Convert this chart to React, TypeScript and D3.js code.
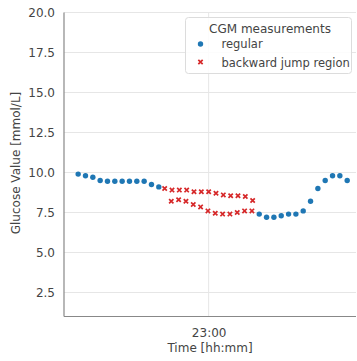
import * as React from 'react';
import * as d3 from 'd3';

// CGM readings: regular before/after the jump, and the overlapping "backward jump" readings
const regularTimes = [
  '2021-10-30 21:31:00', '2021-10-30 21:36:00', '2021-10-30 21:41:00', '2021-10-30 21:46:00',
  '2021-10-30 21:51:00', '2021-10-30 21:56:00', '2021-10-30 22:01:00', '2021-10-30 22:06:00',
  '2021-10-30 22:11:00', '2021-10-30 22:16:00', '2021-10-30 22:21:00', '2021-10-30 22:26:00',
  '2021-10-30 23:34:30', '2021-10-30 23:39:30', '2021-10-30 23:44:30', '2021-10-30 23:49:30',
  '2021-10-30 23:54:30', '2021-10-30 23:59:30', '2021-10-31 00:04:30', '2021-10-31 00:09:30',
  '2021-10-31 00:14:30', '2021-10-31 00:19:30', '2021-10-31 00:24:30', '2021-10-31 00:29:30',
  '2021-10-31 00:34:30',
];
const regularValues = [
  9.9, 9.8, 9.7, 9.5, 9.45, 9.45, 9.45, 9.45, 9.45, 9.45, 9.25, 9.1,
  7.4, 7.2, 7.2, 7.3, 7.4, 7.4, 7.6, 8.2, 9.0, 9.5, 9.8, 9.8, 9.5,
];

const jumpTimes = [
  '2021-10-30 22:30:00', '2021-10-30 22:35:00', '2021-10-30 22:40:00', '2021-10-30 22:45:00',
  '2021-10-30 22:50:00', '2021-10-30 22:55:00', '2021-10-30 23:00:00', '2021-10-30 23:05:00',
  '2021-10-30 23:10:00', '2021-10-30 23:15:00', '2021-10-30 23:20:00', '2021-10-30 23:25:00',
  '2021-10-30 23:30:00',
  '2021-10-30 22:34:30', '2021-10-30 22:39:30', '2021-10-30 22:44:30', '2021-10-30 22:49:30',
  '2021-10-30 22:54:30', '2021-10-30 22:59:30', '2021-10-30 23:04:30', '2021-10-30 23:09:30',
  '2021-10-30 23:14:30', '2021-10-30 23:19:30', '2021-10-30 23:24:30', '2021-10-30 23:29:30',
];
const jumpValues = [
  9.0, 8.9, 8.9, 8.9, 8.8, 8.8, 8.8, 8.7, 8.6, 8.55, 8.55, 8.5, 8.25,
  8.2, 8.3, 8.2, 8.0, 7.85, 7.6, 7.45, 7.4, 7.4, 7.5, 7.6, 7.6,
];

const yTicks = [2.5, 5.0, 7.5, 10.0, 12.5, 15.0, 17.5, 20.0];
const xTicks = ['2021-10-30 23:00:00'];
const xDomain = ['2021-10-30 21:21:20', '2021-10-31 00:40:30'];
const yDomain = [1.0, 20.0];

const parse = d3.timeParse('%Y-%m-%d %H:%M:%S');
const font = 'DejaVu Sans, sans-serif';

export default function App() {
  const ref = React.useRef<SVGSVGElement | null>(null);

  React.useEffect(() => {
    if (!ref.current) return;
    const svg = d3.select(ref.current);
    svg.selectAll('*').remove();

    const margin = { left: 64, right: 356, top: 12.5, bottom: 316.5 };

    const x = d3.scaleTime()
      .domain(xDomain.map(d => parse(d) as Date))
      .range([margin.left, margin.right]);
    const y = d3.scaleLinear().domain(yDomain).range([margin.bottom, margin.top]);

    // grid
    const grid = svg.append('g');
    grid.selectAll('line.h').data(yTicks).join('line')
      .attr('x1', margin.left).attr('x2', margin.right)
      .attr('y1', d => y(d)).attr('y2', d => y(d))
      .attr('stroke', '#e6e6e6').attr('stroke-width', 1);
    grid.selectAll('line.v').data(xTicks).join('line')
      .attr('x1', d => x(parse(d) as Date)).attr('x2', d => x(parse(d) as Date))
      .attr('y1', margin.top).attr('y2', margin.bottom)
      .attr('stroke', '#e6e6e6').attr('stroke-width', 1);

    // axes
    const ay = d3.axisLeft(y).tickValues(yTicks).tickFormat(d3.format('.1f')).tickSize(0).tickPadding(9);
    const gy = svg.append('g').attr('transform', `translate(${margin.left},0)`).call(ay as any);
    gy.select('.domain').remove();
    gy.selectAll('text').attr('font-family', font).attr('font-size', 12).attr('fill', '#444');

    const ax = d3.axisBottom(x)
      .tickValues(xTicks.map(d => parse(d) as Date))
      .tickFormat(d3.timeFormat('%H:%M') as any)
      .tickSize(0).tickPadding(12);
    const gx = svg.append('g').attr('transform', `translate(0,${margin.bottom})`).call(ax as any);
    gx.select('.domain').remove();
    gx.selectAll('text').attr('font-family', font).attr('font-size', 12).attr('fill', '#444');

    // spines
    svg.append('line').attr('x1', margin.left).attr('x2', margin.left)
      .attr('y1', margin.top).attr('y2', margin.bottom)
      .attr('stroke', '#888').attr('stroke-width', 1.2);
    svg.append('line').attr('x1', margin.left).attr('x2', margin.right)
      .attr('y1', margin.bottom).attr('y2', margin.bottom)
      .attr('stroke', '#888').attr('stroke-width', 1.2);

    // axis labels
    svg.append('text').attr('x', 210).attr('y', 352)
      .attr('text-anchor', 'middle').attr('font-family', font).attr('font-size', 12)
      .attr('fill', '#444').text('Time [hh:mm]');
    svg.append('text')
      .attr('transform', `translate(19.5,163) rotate(-90)`)
      .attr('text-anchor', 'middle').attr('font-family', font).attr('font-size', 12)
      .attr('fill', '#444').text('Glucose Value [mmol/L]');

    const blue = '#1f77b4';
    const red = '#d62728';

    // regular points
    svg.append('g').selectAll('circle').data(regularTimes).join('circle')
      .attr('cx', d => x(parse(d) as Date))
      .attr('cy', (_, i) => y(regularValues[i]))
      .attr('r', 2.7).attr('fill', blue);

    // backward jump markers
    const cross = d3.symbol().type(d3.symbolX).size(14);
    svg.append('g').selectAll('path').data(jumpTimes).join('path')
      .attr('transform', (d, i) => `translate(${x(parse(d) as Date)},${y(jumpValues[i])})`)
      .attr('d', cross() as string)
      .attr('stroke', red).attr('stroke-width', 1.7).attr('fill', 'none');

    // legend
    const lg = svg.append('g');
    lg.append('rect').attr('x', 185.5).attr('y', 17.5).attr('width', 166).attr('height', 56)
      .attr('rx', 3).attr('fill', 'white').attr('fill-opacity', 0.85)
      .attr('stroke', '#dcdcdc');
    lg.append('text').attr('x', 270).attr('y', 33)
      .attr('text-anchor', 'middle').attr('font-family', font).attr('font-size', 12)
      .attr('fill', '#444').text('CGM measurements');
    lg.append('circle').attr('cx', 200.5).attr('cy', 44).attr('r', 2.7).attr('fill', blue);
    lg.append('text').attr('x', 221.5).attr('y', 48)
      .attr('font-family', font).attr('font-size', 11.5).attr('fill', '#444').text('regular');
    lg.append('path').attr('transform', 'translate(200.5,62)').attr('d', cross() as string)
      .attr('stroke', red).attr('stroke-width', 1.7).attr('fill', 'none');
    lg.append('text').attr('x', 221.5).attr('y', 66.5)
      .attr('font-family', font).attr('font-size', 11.5).attr('fill', '#444').text('backward jump region');
  }, []);

  return (
    <svg ref={ref} width={357} height={361} viewBox="0 0 357 361"
      style={{ position: 'absolute', left: 0, top: 0, background: 'white' }} />
  );
}
